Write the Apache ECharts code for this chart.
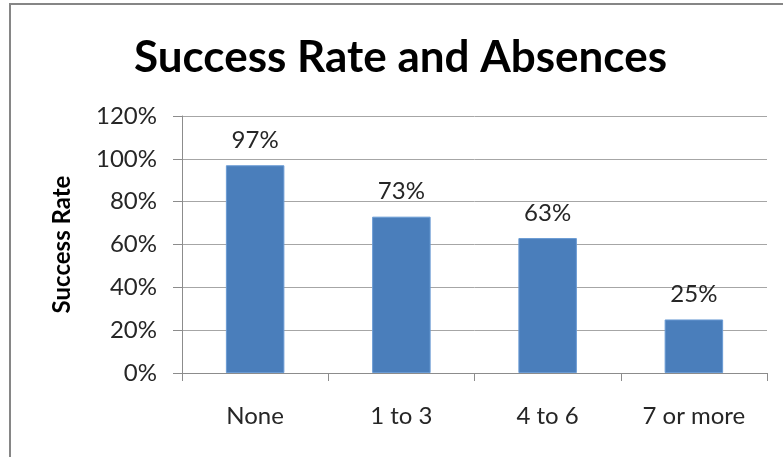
<!DOCTYPE html>
<html>
<head>
<meta charset="utf-8">
<script src="https://cdn.jsdelivr.net/npm/echarts@6/dist/echarts.min.js"></script>
<style>
  html, body { margin: 0; padding: 0; background: #ffffff; }
  #chart { width: 783px; height: 457px; }
</style>
</head>
<body>
<div id="chart"></div>
<script>
// Success rate by number of absences
const categories = ['None', '1 to 3', '4 to 6', '7 or more'];
const successRate = [97, 73, 63, 25];
const yTicks = [0, 20, 40, 60, 80, 100, 120];

const FONT = 'Lato, "Open Sans", sans-serif';
const chart = echarts.init(document.getElementById('chart'), null, { renderer: 'canvas' });

chart.setOption({
  animation: false,
  backgroundColor: '#ffffff',
  title: {
    text: 'Success Rate and Absences',
    left: 129,
    top: 31,
    textStyle: { fontFamily: FONT, fontWeight: 'bold', fontSize: 44, color: '#000000' }
  },
  graphic: [
    {
      type: 'polyline',
      shape: { points: [[10, 457], [10, 4], [783, 4]] },
      style: { stroke: '#868686', lineWidth: 2, fill: null }
    }
  ],
  grid: { left: 182, right: 16, top: 116, bottom: 84 },
  xAxis: {
    type: 'category',
    data: categories,
    axisLine: { lineStyle: { color: '#8c8c8c', width: 1 } },
    axisTick: { show: true, length: 8, alignWithLabel: false, lineStyle: { color: '#8c8c8c' } },
    axisLabel: { margin: 31, fontFamily: FONT, fontSize: 24, color: '#262626' }
  },
  yAxis: {
    type: 'value',
    min: yTicks[0],
    max: yTicks[yTicks.length - 1],
    interval: 20,
    name: 'Success Rate',
    nameLocation: 'middle',
    nameRotate: 90,
    nameGap: 108,
    nameTextStyle: { fontFamily: FONT, fontWeight: 'bold', fontSize: 24, color: '#000000' },
    axisLine: { show: true, lineStyle: { color: '#8c8c8c', width: 1 } },
    axisTick: { show: true, length: 9, lineStyle: { color: '#8c8c8c' } },
    splitLine: { show: true, lineStyle: { color: '#a6a6a6', width: 1 } },
    axisLabel: {
      margin: 25,
      fontFamily: FONT,
      fontSize: 24,
      color: '#262626',
      formatter: v => v + '%'
    }
  },
  series: [
    {
      type: 'bar',
      data: successRate,
      barWidth: '40%',
      itemStyle: { color: '#4a7ebb', borderColor: '#6a9bd4', borderWidth: 1 },
      label: {
        show: true,
        position: 'top',
        distance: 13,
        fontFamily: FONT,
        fontSize: 24,
        color: '#262626',
        formatter: p => p.value + '%'
      }
    }
  ]
});
</script>
</body>
</html>
